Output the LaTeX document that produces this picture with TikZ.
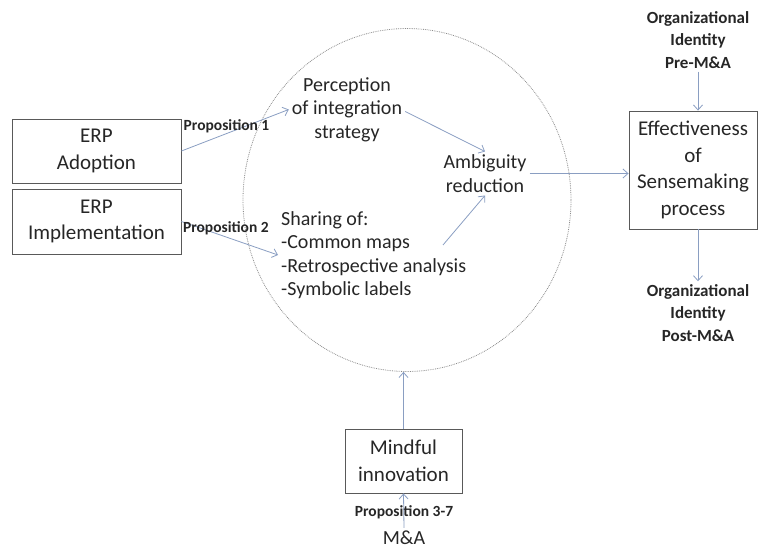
\documentclass[tikz,border=0pt]{standalone}
\usepackage{fontspec}
\setmainfont{Carlito}
\usetikzlibrary{shapes.geometric,arrows.meta}
\definecolor{linkblue}{RGB}{138,158,194}

\begin{document}
\begin{tikzpicture}[x=1pt, y=-1pt,
  every node/.style = {align=center, text=black!85, inner sep=3pt}]
    \tikzstyle{box}=[shape=rectangle, draw=black!65, line width=0.9pt, font=\fontsize{21}{26.5}\selectfont]
    \tikzstyle{txt}=[font=\fontsize{20}{23.5}\selectfont]
    \tikzstyle{prop}=[font=\bfseries\fontsize{15.5}{18}\selectfont]
    \tikzstyle{ident}=[font=\bfseries\fontsize{17}{22.5}\selectfont]
    \tikzstyle{link}=[draw=linkblue, line width=0.8pt, -{Straight Barb[length=5pt,width=9pt]}]
  \useasboundingbox (0,0) rectangle (761,549);
  \node [shape=ellipse, draw=black!45, densely dotted, line width=0.8pt,
    minimum width=328pt, minimum height=343pt] (sphere) at (407,200) {};
  \node [box, minimum width=169pt, minimum height=64pt] (adopt) at (96.5,151) {ERP\\Adoption};
  \node [box, minimum width=169pt, minimum height=65pt] (impl) at (96.5,221.5) {ERP\\Implementation};
  \node [txt] (perc) at (347,109.5) {Perception\\of integration\\strategy};
  \node [txt] (amb) at (485,173.5) {Ambiguity\\reduction};
  \node [txt, align=left, anchor=west] (share) at (278,255)
    {Sharing of:\\-Common maps\\-Retrospective analysis\\-Symbolic labels};
  \node [box, minimum width=128pt, minimum height=118pt] (eff) at (693,170)
    {Effectiveness\\of\\Sensemaking\\process};
  \node [ident] (pre) at (698,40) {Organizational\\Identity\\Pre-M\&A};
  \node [ident] (post) at (698,313) {Organizational\\Identity\\Post-M\&A};
  \node [box, minimum width=117pt, minimum height=64pt] (mind) at (403.5,461) {Mindful\\innovation};
  \node [prop] (prop37) at (404,512) {Proposition 3-7};
  \node [txt] (ma) at (404,538) {M\&A};
  \coordinate (cm) at (443,245);

  \draw [link] (adopt.east) -- (perc.west)
    node [prop, pos=0.42, yshift=7pt] {Proposition 1};
  \draw [link] (impl.east) -- (share.west)
    node [prop, pos=0.46, yshift=9pt] {Proposition 2};
  \draw [link] ([yshift=-2pt]perc.east) -- (amb.north);
  \draw [link] (cm) -- (amb.south);
  \draw [link] (amb.east) -- (amb.east -| eff.west);
  \draw [link] (pre.south) -- (pre.south |- eff.north);
  \draw [link] (post.north |- eff.south) -- (post.north);
  \draw [link] (mind.north) -- (mind.north |- sphere.south);
  \draw [link] (ma.north) -- (mind.south);
\end{tikzpicture}
\end{document}
